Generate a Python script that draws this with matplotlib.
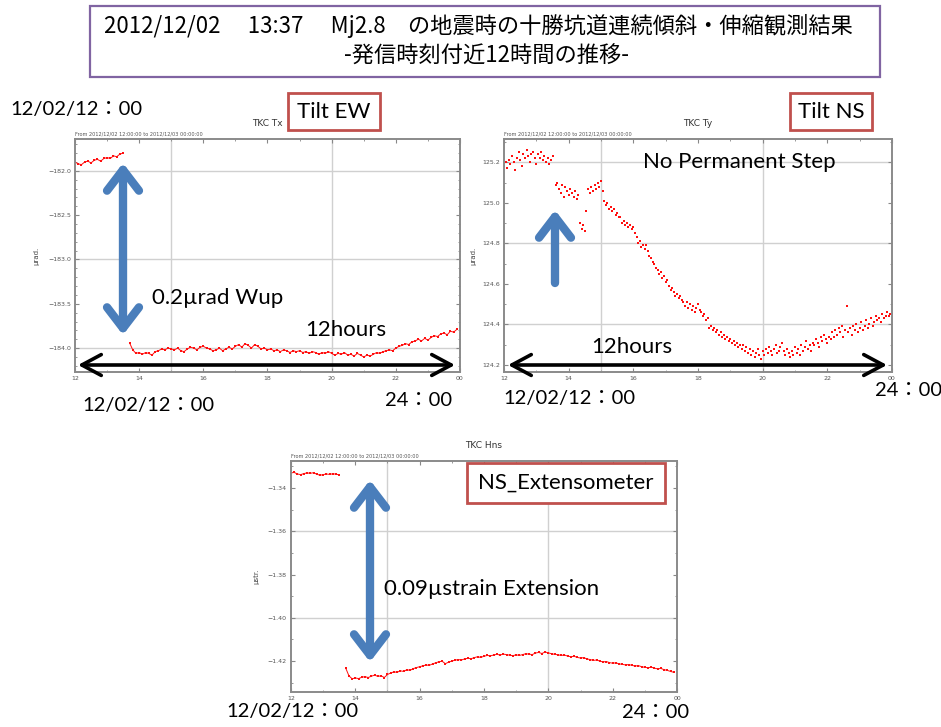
import numpy as np
import matplotlib
matplotlib.use('Agg')
import matplotlib.pyplot as plt
from matplotlib.patches import Rectangle

W, H = 941, 727
RED = '#ff1010'
BLUE = '#4a7ebb'
BOXRED = '#c0504d'
TXT = ['Lato', 'Noto Sans CJK JP', 'DejaVu Sans']

# ---- TKC Tx (urad), hourly clock time
tx_t_pre = np.arange(120, 136) / 10.0
tx_pre = [-181.90, -181.92, -181.93, -181.90, -181.89, -181.91, -181.88, -181.87, -181.89, -181.86,
          -181.85, -181.86, -181.83, -181.84, -181.81, -181.80]
tx_t_post = np.arange(137, 240) / 10.0
tx_post = [-183.94, -184.02, -184.06,
           -184.05, -184.07, -184.05, -184.06, -184.08, -184.04, -184.03, -184.01, -184.02, -184.00,
           -184.01, -184.02, -184.00, -184.03, -184.04, -184.01, -183.99, -184.00, -184.02, -183.99,
           -183.98, -184.00, -184.01, -184.03, -184.02, -184.00, -184.03, -184.01, -183.99, -184.01,
           -183.98, -183.96, -183.99, -183.95, -183.97, -184.00, -183.96, -183.98, -184.01, -184.00,
           -184.02, -184.01, -184.03, -184.02, -184.04, -184.02, -184.03, -184.05, -184.03, -184.04,
           -184.03, -184.05, -184.04, -184.06, -184.04, -184.05, -184.07, -184.05, -184.06, -184.04,
           -184.06, -184.08, -184.06, -184.07, -184.05, -184.08, -184.07, -184.09, -184.06, -184.08,
           -184.10, -184.08, -184.09, -184.07, -184.05, -184.06, -184.04, -184.03, -184.02, -184.03,
           -184.00, -183.98, -183.97, -183.95, -183.96, -183.93, -183.92, -183.90, -183.92, -183.89,
           -183.91, -183.88, -183.86, -183.87, -183.84, -183.83, -183.85, -183.81, -183.82, -183.79]

# ---- TKC Ty (urad), 3 min samples
ty_t_pre = np.arange(240, 271) * 0.05
ty_pre = [125.18, 125.20, 125.17, 125.21, 125.19, 125.23, 125.20, 125.16, 125.22, 125.25,
          125.21, 125.18, 125.24, 125.22, 125.26, 125.23, 125.20, 125.24, 125.25, 125.22,
          125.19, 125.24, 125.22, 125.25, 125.21, 125.23, 125.20, 125.22, 125.19, 125.21, 125.23]
ty_t_post = np.arange(272, 480) * 0.05
ty_post = [125.09, 125.10, 125.07, 125.05, 125.09, 125.03, 125.08, 125.06, 125.04, 125.07,
           125.05, 125.03, 125.06, 125.02, 125.04, 124.90, 124.87, 124.89, 124.86, 124.96,
           125.07, 125.05, 125.08, 125.06, 125.09, 125.07, 125.10, 125.08, 125.11, 125.06,
           125.01, 124.99, 125.00, 124.97, 124.98, 124.96, 124.97, 124.94, 124.95, 124.93,
           124.93, 124.90, 124.91, 124.89, 124.90, 124.88, 124.89, 124.87, 124.88, 124.85,
           124.83, 124.80, 124.81, 124.78, 124.79, 124.77, 124.79, 124.76, 124.74, 124.73,
           124.71, 124.70, 124.68, 124.67, 124.65, 124.66, 124.63, 124.64, 124.61, 124.62,
           124.59, 124.57, 124.58, 124.56, 124.54, 124.55, 124.53, 124.54, 124.52, 124.51,
           124.49, 124.51, 124.48, 124.50, 124.47, 124.49, 124.46, 124.48, 124.50, 124.47,
           124.46, 124.44, 124.45, 124.42, 124.43, 124.38, 124.39, 124.37, 124.38, 124.36,
           124.37, 124.35, 124.36, 124.34, 124.35, 124.33, 124.34, 124.32, 124.33, 124.31,
           124.32, 124.30, 124.31, 124.29, 124.30, 124.28, 124.30, 124.27, 124.29, 124.26,
           124.28, 124.25, 124.27, 124.24, 124.26, 124.28, 124.25, 124.23, 124.27, 124.25,
           124.28, 124.26, 124.29, 124.27, 124.25, 124.28, 124.30, 124.26, 124.27, 124.29,
           124.31, 124.27, 124.25, 124.28, 124.26, 124.24, 124.27, 124.25, 124.29, 124.26,
           124.28, 124.25, 124.30, 124.27, 124.29, 124.32, 124.28, 124.30, 124.27, 124.31,
           124.30, 124.33, 124.31, 124.29, 124.34, 124.32, 124.35, 124.33, 124.31, 124.34,
           124.33, 124.36, 124.34, 124.37, 124.35, 124.38, 124.36, 124.39, 124.34, 124.37,
           124.49, 124.36, 124.38, 124.35, 124.39, 124.37, 124.40, 124.36, 124.38, 124.41,
           124.37, 124.39, 124.42, 124.38, 124.40, 124.43, 124.39, 124.41, 124.44, 124.42,
           124.43, 124.41, 124.45, 124.43, 124.44, 124.46, 124.44, 124.45]

# ---- TKC Hns (ustrain)
hns_t_pre = np.arange(120, 136) / 10.0
hns_pre = [-1.3330, -1.3328, -1.3335, -1.3338, -1.3333, -1.3330, -1.3332, -1.3329, -1.3336, -1.3341,
           -1.3338, -1.3335, -1.3337, -1.3334, -1.3336, -1.3339]
hns_t_post = np.arange(137, 240) / 10.0
hns_post = [-1.4232, -1.4268, -1.4282,
            -1.4278, -1.4281, -1.4275, -1.4272, -1.4276, -1.4270, -1.4265, -1.4271, -1.4268, -1.4276,
            -1.4262, -1.4255, -1.4250, -1.4252, -1.4245, -1.4248, -1.4240, -1.4243, -1.4235, -1.4230,
            -1.4226, -1.4222, -1.4218, -1.4220, -1.4213, -1.4208, -1.4203, -1.4201, -1.4212, -1.4205,
            -1.4200, -1.4196, -1.4193, -1.4195, -1.4190, -1.4187, -1.4189, -1.4184, -1.4180, -1.4183,
            -1.4178, -1.4174, -1.4176, -1.4172, -1.4169, -1.4172, -1.4168, -1.4170, -1.4173, -1.4175,
            -1.4171, -1.4174, -1.4170, -1.4166, -1.4168, -1.4170, -1.4163, -1.4160, -1.4165, -1.4158,
            -1.4162, -1.4166, -1.4169, -1.4171, -1.4174, -1.4172, -1.4177, -1.4180, -1.4178, -1.4183,
            -1.4186, -1.4184, -1.4190, -1.4193, -1.4197, -1.4195, -1.4200, -1.4204, -1.4202, -1.4207,
            -1.4210, -1.4208, -1.4213, -1.4215, -1.4218, -1.4216, -1.4220, -1.4223, -1.4221, -1.4226,
            -1.4229, -1.4231, -1.4228, -1.4233, -1.4236, -1.4234, -1.4240, -1.4243, -1.4248, -1.4252]

x_ticks = [12, 14, 16, 18, 20, 22, 24]
x_ticklabels = ['12', '14', '16', '18', '20', '22', '00']
from_text = 'From 2012/12/02 12:00:00 to 2012/12/03 00:00:00'


def px(x, y):
    return x / W, 1 - y / H


def setup_axes(fig, box, title, ylabel, ylim, yticks, yfmt, ygrid, yminor, lpad):
    l, t, r, b = box
    ax = fig.add_axes([l / W, 1 - b / H, (r - l) / W, (b - t) / H])
    ax.set_xlim(12, 24)
    ax.set_ylim(*ylim)
    ax.set_xticks(x_ticks)
    ax.set_xticklabels(x_ticklabels)
    ax.set_xticks(np.arange(12, 25, 1), minor=True)
    ax.set_yticks(yticks)
    ax.set_yticklabels([yfmt.format(v).replace('-', '\u2212') for v in yticks])
    ax.set_yticks(yminor, minor=True)
    ax.tick_params(which='both', direction='in', top=True, right=True, labelsize=4.5,
                   labelcolor='#555555', color='#888888', pad=3)
    ax.tick_params(which='major', length=3)
    ax.tick_params(which='minor', length=1.5)
    for s in ax.spines.values():
        s.set_color('#8a8a8a')
        s.set_linewidth(1.4)
    for g in [15, 20]:
        ax.axvline(g, color='#d0d0d0', lw=1.0, zorder=0)
    for g in ygrid:
        ax.axhline(g, color='#d0d0d0', lw=1.0, zorder=0)
    ax.set_title(title, fontsize=6.5, color='#333333', pad=9)
    ax.set_ylabel(ylabel, fontsize=5, color='#444444', labelpad=lpad)
    ax.text(0.0, 1.012, from_text, transform=ax.transAxes, fontsize=3.6, color='#555555',
            ha='left', va='bottom')
    return ax


fig = plt.figure(figsize=(W / 100, H / 100), dpi=100)

# panels
ax1 = setup_axes(fig, (75, 139, 460, 372), 'TKC Tx', '\u00b5rad.', (-184.27, -181.64),
                 [-184.0, -183.5, -183.0, -182.5, -182.0], '{:.1f}', [-184, -183, -182],
                 np.arange(-184.2, -181.65, 0.1), 6)
ax1.plot(tx_t_pre, tx_pre, color=RED, lw=0.7, marker='s', ms=1.8, mew=0)
ax1.plot(tx_t_post, tx_post, color=RED, lw=0.7, marker='s', ms=1.8, mew=0)

ax2 = setup_axes(fig, (504, 139, 892, 372), 'TKC Ty', '\u00b5rad.', (124.165, 125.315),
                 [124.2, 124.4, 124.6, 124.8, 125.0, 125.2], '{:.1f}', [124.4, 124.8, 125.2],
                 np.arange(124.2, 125.31, 0.1), 4)
ax2.plot(ty_t_pre, ty_pre, ls='none', color=RED, marker='s', ms=1.9, mew=0)
ax2.plot(ty_t_post, ty_post, ls='none', color=RED, marker='s', ms=1.9, mew=0)

ax3 = setup_axes(fig, (291, 461, 677, 692), 'TKC Hns', '\u00b5str.', (-1.4343, -1.3275),
                 [-1.42, -1.40, -1.38, -1.36, -1.34], '{:.2f}', [-1.40, -1.36],
                 np.arange(-1.43, -1.329, 0.01), 6)
ax3.plot(hns_t_pre, hns_pre, color=RED, lw=0.7, marker='s', ms=1.8, mew=0)
ax3.plot(hns_t_post, hns_post, color=RED, lw=0.7, marker='s', ms=1.8, mew=0)

# title box
fig.patches.append(Rectangle(px(90, 77), 790 / W, 71 / H, transform=fig.transFigure,
                             fill=False, edgecolor='#8064a2', lw=1.6))
fig.text(*px(478, 26), '2012/12/02\u3000 13:37\u3000 Mj2.8\u3000の地震時の十勝坑道連続傾斜・伸縮観測結果',
         family=['Noto Sans CJK JP'], fontsize=16, ha='center', va='center')
fig.text(*px(486, 56), '-発信時刻付近12時間の推移-', family=['Noto Sans CJK JP'],
         fontsize=16, ha='center', va='center')

# label boxes
for (l, t, r, b), lab in [((288, 93, 380, 130), 'Tilt EW'), ((790, 93, 872, 130), 'Tilt NS'),
                          ((467, 463, 665, 503), 'NS_Extensometer')]:
    fig.patches.append(Rectangle(px(l, b), (r - l) / W, (b - t) / H, transform=fig.transFigure,
                                 facecolor='white', edgecolor=BOXRED, lw=2.0, zorder=5))
    fig.text(*px((l + r) / 2, (t + b) / 2), lab, family=TXT, fontsize=16, ha='center',
             va='center', zorder=6)

# time labels
for x, y, s in [(10, 110, '12/02/12\uff1a00'), (82, 405, '12/02/12\uff1a00'), (385, 400, '24\uff1a00'),
                (503, 398, '12/02/12\uff1a00'), (875, 390, '24\uff1a00'),
                (226, 712, '12/02/12\uff1a00'), (622, 712, '24\uff1a00')]:
    fig.text(*px(x, y), s, family=TXT, fontsize=14.5, ha='left', va='center')

# annotations
for x, y, s in [(152, 298, '0.2\u00b5rad Wup'), (305, 330, '12hours'), (643, 162, 'No Permanent Step'),
                (591, 347, '12hours'), (384, 589, '0.09\u00b5strain Extension')]:
    fig.text(*px(x, y), s, family=TXT, fontsize=16, ha='left', va='center', zorder=7)


def arrow(x0, y0, x1, y1, style, color, lw, hl, hw):
    fig.add_artist(matplotlib.patches.FancyArrowPatch(
        px(x0, y0), px(x1, y1), transform=fig.transFigure,
        arrowstyle='%s,head_length=%s,head_width=%s' % (style, hl, hw),
        mutation_scale=10, color=color, lw=lw, capstyle='round', joinstyle='round',
        shrinkA=0, shrinkB=0, zorder=8))


arrow(123, 335, 123, 163, '<->', BLUE, 6, 1.5, 1.15)
arrow(555, 283, 555, 210, '->', BLUE, 6, 1.5, 1.15)
arrow(370, 662, 370, 480, '<->', BLUE, 6, 1.5, 1.15)
arrow(78, 365, 455, 365, '<->', 'black', 2.6, 1.4, 0.75)
arrow(508, 365, 887, 365, '<->', 'black', 2.6, 1.4, 0.75)

fig.savefig('out.png', dpi=100)
